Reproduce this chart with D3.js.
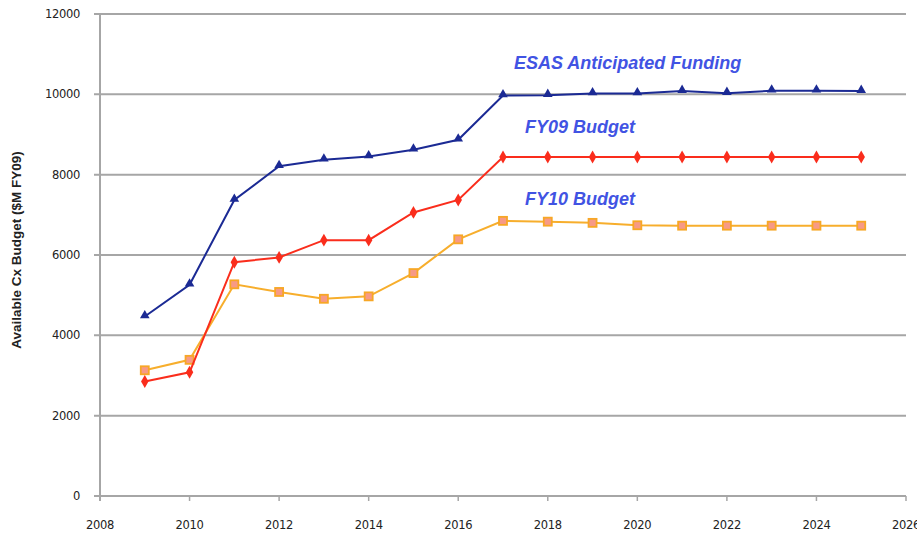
<!DOCTYPE html>
<html>
<head>
<meta charset="utf-8">
<script src="https://cdn.jsdelivr.net/npm/d3@7"></script>
<style>
  body { margin: 0; background: #fff; }
  svg { display: block; }
</style>
</head>
<body>
<div id="chart"></div>
<script>
var years = [2009,2010,2011,2012,2013,2014,2015,2016,2017,2018,2019,2020,2021,2022,2023,2024,2025];
var esas = [4470,5260,7370,8210,8370,8450,8620,8870,9970,9980,10020,10020,10080,10030,10090,10090,10080];
var fy09 = [2850,3080,5820,5940,6370,6370,7060,7370,8440,8440,8440,8440,8440,8440,8440,8440,8440];
var fy10 = [3130,3390,5270,5080,4910,4970,5550,6390,6850,6830,6800,6740,6730,6730,6730,6730,6730];
var yTicks = [0,2000,4000,6000,8000,10000,12000];
var xTicks = [2008,2010,2012,2014,2016,2018,2020,2022,2024,2026];
var seriesNames = ["ESAS Anticipated Funding","FY09 Budget","FY10 Budget"];

var W = 917, H = 535;
var margin = { top: 14, right: 11, bottom: 39, left: 100 };

var svg = d3.select("#chart").append("svg")
    .attr("width", W)
    .attr("height", H);

var x = d3.scaleLinear().domain([2008, 2026]).range([margin.left, W - margin.right]);
var y = d3.scaleLinear().domain([0, 12000]).range([H - margin.bottom, margin.top]);

var grey = "#a6a6a6";
var tickFont = "'DejaVu Sans', Verdana, sans-serif";

// gridlines + y ticks
svg.append("g").selectAll("line")
    .data(yTicks)
    .enter().append("line")
    .attr("x1", margin.left - 6)
    .attr("x2", W - margin.right)
    .attr("y1", function(d){ return y(d); })
    .attr("y2", function(d){ return y(d); })
    .style("stroke", grey)
    .style("stroke-width", 2);

svg.append("g").selectAll("text")
    .data(yTicks)
    .enter().append("text")
    .attr("x", margin.left - 20)
    .attr("y", function(d){ return y(d) + 4; })
    .attr("text-anchor", "end")
    .style("font-family", tickFont)
    .style("font-size", "11.5px")
    .style("letter-spacing", "-0.3px")
    .style("fill", "#222")
    .text(function(d){ return d; });

// y axis line
svg.append("line")
    .attr("x1", margin.left).attr("x2", margin.left)
    .attr("y1", y(12000)).attr("y2", y(0) + 5)
    .style("stroke", grey)
    .style("stroke-width", 2);

// x ticks
svg.append("g").selectAll("line")
    .data(xTicks)
    .enter().append("line")
    .attr("x1", function(d){ return x(d); })
    .attr("x2", function(d){ return x(d); })
    .attr("y1", y(0))
    .attr("y2", y(0) + 5)
    .style("stroke", grey)
    .style("stroke-width", 1.5);

svg.append("g").selectAll("text")
    .data(xTicks)
    .enter().append("text")
    .attr("x", function(d){ return x(d); })
    .attr("y", y(0) + 33)
    .attr("text-anchor", "middle")
    .style("font-family", tickFont)
    .style("font-size", "11.5px")
    .style("letter-spacing", "-0.3px")
    .style("fill", "#222")
    .text(function(d){ return d; });

// y axis title
svg.append("text")
    .attr("transform", "translate(21,250) rotate(-90)")
    .attr("text-anchor", "middle")
    .style("font-family", "'Liberation Sans', Arial, sans-serif")
    .style("font-size", "13.5px")
    .style("font-weight", "bold")
    .style("fill", "#222")
    .text("Available Cx Budget ($M FY09)");

var line = d3.line()
    .x(function(d){ return x(d[0]); })
    .y(function(d){ return y(d[1]); });

function zip(vals){ return years.map(function(yr, i){ return [yr, vals[i]]; }); }

// FY10 (orange, squares)
var d10 = zip(fy10);
svg.append("path").datum(d10)
    .attr("d", line)
    .style("fill", "none")
    .style("stroke", "#f7ae2c")
    .style("stroke-width", 2);
svg.append("g").selectAll("rect")
    .data(d10)
    .enter().append("rect")
    .attr("x", function(d){ return x(d[0]) - 4; })
    .attr("y", function(d){ return y(d[1]) - 4; })
    .attr("width", 8)
    .attr("height", 8)
    .style("fill", "#f79a86")
    .style("stroke", "#f7a726")
    .style("stroke-width", 1.8);

// FY09 (red, diamonds)
var d09 = zip(fy09);
svg.append("path").datum(d09)
    .attr("d", line)
    .style("fill", "none")
    .style("stroke", "#fa2d1c")
    .style("stroke-width", 2);
svg.append("g").selectAll("path")
    .data(d09)
    .enter().append("path")
    .attr("d", d3.symbol().type(d3.symbolDiamond).size(48))
    .attr("transform", function(d){ return "translate(" + x(d[0]) + "," + y(d[1]) + ")"; })
    .style("fill", "#fa2d1c");

// ESAS (navy, triangles)
var de = zip(esas);
svg.append("path").datum(de)
    .attr("d", line)
    .style("fill", "none")
    .style("stroke", "#1b2a94")
    .style("stroke-width", 2);
svg.append("g").selectAll("path")
    .data(de)
    .enter().append("path")
    .attr("d", d3.symbol().type(d3.symbolTriangle).size(40))
    .attr("transform", function(d){ return "translate(" + x(d[0]) + "," + (y(d[1]) - 1) + ")"; })
    .style("fill", "#1b2a94");

// series labels
var labelPos = [[514, 69], [525, 133], [525, 205]];
svg.append("g").selectAll("text")
    .data(seriesNames)
    .enter().append("text")
    .attr("x", function(d, i){ return labelPos[i][0]; })
    .attr("y", function(d, i){ return labelPos[i][1]; })
    .style("font-family", "'Liberation Sans', Arial, sans-serif")
    .style("font-size", "18px")
    .style("font-weight", "bold")
    .style("font-style", "italic")
    .style("fill", "#4153e3")
    .text(function(d){ return d; });
</script>
</body>
</html>
